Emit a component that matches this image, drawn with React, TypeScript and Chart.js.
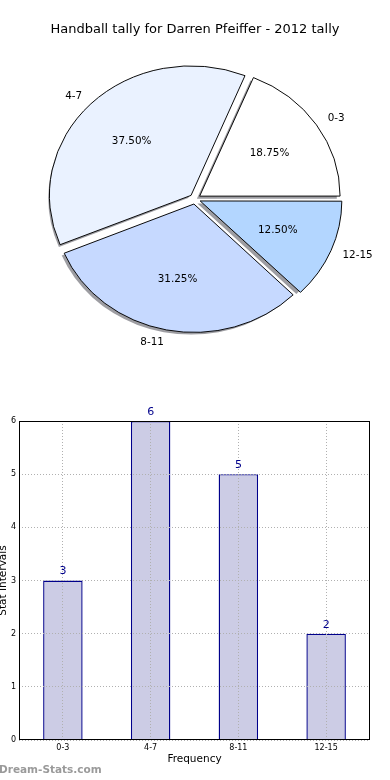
import React, { useEffect, useRef } from 'react';
import { Chart, registerables } from 'chart.js';

Chart.register(...registerables);

// ---- data ----
const categories = ['0-3', '4-7', '8-11', '12-15'];
const counts = [3, 6, 5, 2];
const yTickValues = [0, 1, 2, 3, 4, 5, 6];
const chartTitle = 'Handball tally for Darren Pfeiffer - 2012 tally';
const xAxisTitle = 'Frequency';
const yAxisTitle = 'Stat Intervals';
const watermarkText = 'Dream-Stats.com';

// ---- styles ----
const FONT = '"DejaVu Sans", "Noto Sans", sans-serif';
const sliceColors = ['#ffffff', '#eaf2ff', '#c6d9ff', '#b3d6ff'];
const BAR_FILL = '#ccccE5';
const BAR_EDGE = '#00008b';
const GRID_COLOR = '#b0b0b0';
const PIE_RADIUS = 140;
const Y_SQUASH = 128 / 140;
const EXPLODE_OPT = 22.4; // Chart.js translates by offset/4
const SHADOW_DX = -2.8;
const SHADOW_DY = 2.6;

Chart.defaults.font.family = FONT;

const piePlugin = {
  id: 'pieExtras',
  beforeDatasetsDraw(chart: any) {
    const ctx = chart.ctx;
    const meta = chart.getDatasetMeta(0);
    const el0 = meta.data[0];
    const cx = el0.x;
    const cy = el0.y;
    ctx.save();
    ctx.translate(cx, cy);
    ctx.scale(1, Y_SQUASH);
    ctx.translate(-cx, -cy);
    ctx.fillStyle = 'rgba(60,60,70,0.5)';
    meta.data.forEach((el: any) => {
      const off = (el.options.offset || 0) / 4;
      const mid = (el.startAngle + el.endAngle) / 2;
      const x = el.x + Math.cos(mid) * off + SHADOW_DX;
      const y = el.y + Math.sin(mid) * off + SHADOW_DY / Y_SQUASH;
      ctx.beginPath();
      ctx.moveTo(x, y);
      ctx.arc(x, y, el.outerRadius, el.startAngle, el.endAngle);
      ctx.closePath();
      ctx.fill();
    });
  },
  afterDatasetsDraw(chart: any) {
    chart.ctx.restore();
  },
  afterDraw(chart: any) {
    const ctx = chart.ctx;
    const meta = chart.getDatasetMeta(0);
    const data: number[] = chart.data.datasets[0].data;
    const total = data.reduce((a, b) => a + b, 0);
    ctx.save();
    ctx.fillStyle = '#000';
    ctx.textBaseline = 'middle';
    ctx.font = `13px ${FONT}`;
    ctx.textAlign = 'center';
    ctx.fillText(chartTitle, chart.width / 2, 30);
    ctx.font = `10.4px ${FONT}`;
    meta.data.forEach((el: any, i: number) => {
      const off = (el.options.offset || 0) / 4;
      const mid = (el.startAngle + el.endAngle) / 2;
      const R = el.outerRadius;
      const c = Math.cos(mid);
      const s = Math.sin(mid);
      const lx = el.x + c * (off + 1.1 * R);
      const ly = el.y + s * (off + 1.1 * R) * Y_SQUASH;
      ctx.textAlign = c > 0 ? 'left' : 'right';
      ctx.fillText(String(chart.data.labels[i]), lx, ly);
      const px = el.x + c * (off + 0.6 * R);
      const py = el.y + s * (off + 0.6 * R) * Y_SQUASH;
      ctx.textAlign = 'center';
      ctx.fillText(((data[i] / total) * 100).toFixed(2) + '%', px, py);
    });
    ctx.restore();
  },
};

const barPlugin = {
  id: 'barExtras',
  afterDraw(chart: any) {
    const ctx = chart.ctx;
    const a = chart.chartArea;
    ctx.save();
    ctx.strokeStyle = '#000';
    ctx.lineWidth = 1;
    ctx.setLineDash([]);
    const l = Math.round(a.left) + 0.5;
    const t = Math.round(a.top) + 0.5;
    const r = Math.round(a.right) - 0.5;
    const b = Math.round(a.bottom) - 0.5;
    ctx.strokeRect(l, t, r - l, b - t);
    const meta = chart.getDatasetMeta(0);
    const data: number[] = chart.data.datasets[0].data;
    ctx.fillStyle = BAR_EDGE;
    ctx.font = `11px ${FONT}`;
    ctx.textAlign = 'center';
    ctx.textBaseline = 'middle';
    meta.data.forEach((el: any, i: number) => {
      ctx.fillText(String(data[i]), el.x, el.y - 9);
    });
    ctx.fillStyle = '#9a9a9a';
    ctx.font = `bold 10.5px ${FONT}`;
    ctx.textAlign = 'left';
    ctx.fillText(watermarkText, -1, 380);
    ctx.restore();
  },
};

export default function App() {
  const pieRef = useRef<HTMLCanvasElement>(null);
  const barRef = useRef<HTMLCanvasElement>(null);

  useEffect(() => {
    const pieLabels = [...categories].reverse();
    const pieData = [...counts].reverse();
    const pieColors = [...sliceColors].reverse();

    const pie = new Chart(pieRef.current as HTMLCanvasElement, {
      type: 'pie',
      data: {
        labels: pieLabels,
        datasets: [
          {
            data: pieData,
            backgroundColor: pieColors,
            borderColor: '#000',
            borderWidth: 1,
            offset: EXPLODE_OPT,
            hoverOffset: 0,
          } as any,
        ],
      },
      options: {
        responsive: false,
        animation: false,
        devicePixelRatio: 1,
        rotation: 90,
        radius: PIE_RADIUS,
        layout: { padding: { top: 8, bottom: 0, left: 0, right: 0 } },
        plugins: { legend: { display: false }, tooltip: { enabled: false }, title: { display: false } },
      } as any,
      plugins: [piePlugin],
    });

    const tickFont = { family: FONT, size: 8 };
    const titleFont = { family: FONT, size: 10.5 };

    const bar = new Chart(barRef.current as HTMLCanvasElement, {
      type: 'bar',
      data: {
        labels: categories,
        datasets: [
          {
            data: counts,
            backgroundColor: BAR_FILL,
            borderColor: BAR_EDGE,
            borderWidth: 1.4,
            barPercentage: 0.45,
            categoryPercentage: 1,
          },
        ],
      },
      options: {
        responsive: false,
        animation: false,
        devicePixelRatio: 1,
        layout: { padding: { left: 0, right: 20, top: 31, bottom: 0 } },
        plugins: { legend: { display: false }, tooltip: { enabled: false } },
        scales: {
          x: {
            offset: true,
            grid: { offset: false, color: GRID_COLOR, lineWidth: 1, drawTicks: false, z: 1 },
            border: { display: false, dash: [1, 2] },
            ticks: { font: tickFont, color: '#000', padding: 3, maxRotation: 0, autoSkip: false },
            title: { display: true, text: xAxisTitle, font: titleFont, color: '#000', padding: { top: 0, bottom: 14 } },
            afterFit: (s: any) => {
              s.height = 40;
            },
          },
          y: {
            min: 0,
            max: 6,
            grid: { color: GRID_COLOR, lineWidth: 1, drawTicks: false, z: 1 },
            border: { display: false, dash: [1, 2] },
            ticks: { font: tickFont, color: '#000', padding: 3, stepSize: 1 },
            title: { display: true, text: yAxisTitle, font: titleFont, color: '#000', padding: { top: -3.3, bottom: 0 } },
            afterBuildTicks: (s: any) => {
              s.ticks = yTickValues.map((v) => ({ value: v }));
            },
            afterFit: (s: any) => {
              s.width = 19;
            },
          },
        },
      } as any,
      plugins: [barPlugin],
    });

    return () => {
      pie.destroy();
      bar.destroy();
    };
  }, []);

  return (
    <div style={{ position: 'absolute', left: 0, top: 0, width: 390, height: 780, background: '#fff' }}>
      <canvas
        ref={pieRef}
        width={390}
        height={390}
        style={{ position: 'absolute', left: 0, top: 0, width: 390, height: 390, display: 'block' }}
      />
      <canvas
        ref={barRef}
        width={390}
        height={390}
        style={{ position: 'absolute', left: 0, top: 390, width: 390, height: 390, display: 'block' }}
      />
    </div>
  );
}
